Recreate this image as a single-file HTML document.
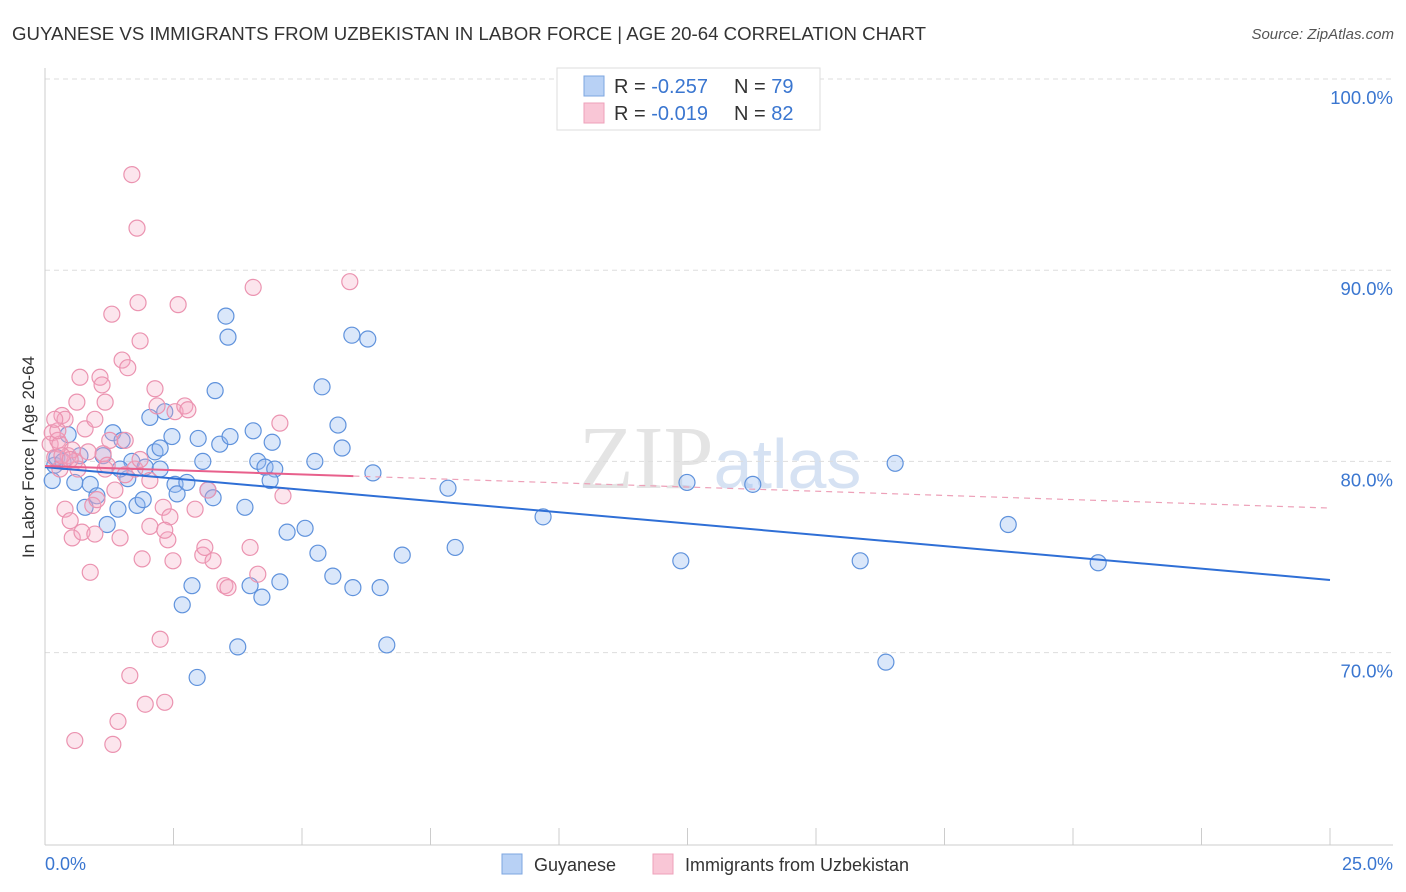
<!DOCTYPE html>
<html><head><meta charset="utf-8"><style>
body{margin:0;background:#fff;font-family:"Liberation Sans",sans-serif;}
svg{display:block}
</style></head><body>
<svg id="chart" width="1406" height="892" xmlns="http://www.w3.org/2000/svg">
<text x="12" y="40" font-size="18" fill="#333" textLength="914" lengthAdjust="spacingAndGlyphs">GUYANESE VS IMMIGRANTS FROM UZBEKISTAN IN LABOR FORCE | AGE 20-64 CORRELATION CHART</text>
<text x="1394" y="39" font-size="15" fill="#555" text-anchor="end" font-style="italic">Source: ZipAtlas.com</text>
<text x="720" y="488" font-size="90" fill="#e4e4e4" text-anchor="middle" font-family="Liberation Serif"><tspan>ZIP</tspan><tspan fill="#d6e2f3" font-family="Liberation Sans" font-size="70">atlas</tspan></text>
<g id="grid"></g>
<g id="axes"></g>
<g id="pts"></g>
<g id="trends"></g>
<text transform="translate(34,457) rotate(-90)" font-size="17" fill="#333" text-anchor="middle">In Labor Force | Age 20-64</text>
<g>
<rect x="557" y="68" width="263" height="62" fill="#fff" stroke="#ddd"/>
<rect x="584" y="76" width="20" height="20" fill="#b8d1f5" stroke="#7da6e0"/>
<rect x="584" y="103" width="20" height="20" fill="#f9c6d6" stroke="#eea0ba"/>
<text x="614" y="93" font-size="20" fill="#333">R = <tspan fill="#3a76d0">-0.257</tspan><tspan x="734">N = </tspan><tspan fill="#3a76d0">79</tspan></text>
<text x="614" y="120" font-size="20" fill="#333">R = <tspan fill="#3a76d0">-0.019</tspan><tspan x="734">N = </tspan><tspan fill="#3a76d0">82</tspan></text>
</g>
<g>
<rect x="502" y="854" width="20" height="20" fill="#b8d1f5" stroke="#7da6e0"/>
<text x="534" y="871" font-size="18" fill="#333">Guyanese</text>
<rect x="653" y="854" width="20" height="20" fill="#f9c6d6" stroke="#eea0ba"/>
<text x="685" y="871" font-size="18" fill="#333">Immigrants from Uzbekistan</text>
</g>
</svg>
<script>
const xTicks=[0,25];
const xTickLabels=["0.0%","25.0%"];
const yTicks=[100,90,80,70];
const yTickLabels=["100.0%","90.0%","80.0%","70.0%"];
const blueX=[0.14,0.19,0.23,0.35,0.45,0.58,0.68,0.78,0.88,1.01,1.13,1.21,1.32,1.42,1.50,1.61,1.69,1.79,1.91,1.95,2.04,2.14,2.24,2.33,2.47,2.53,2.57,2.67,2.76,2.86,2.96,2.98,3.07,3.17,3.27,3.31,3.40,3.52,3.56,3.75,3.89,3.99,4.05,4.14,4.22,4.28,4.42,4.47,4.57,4.71,5.06,5.31,5.39,5.60,5.70,5.78,5.97,5.99,6.28,6.38,6.52,6.65,6.95,7.84,7.98,9.69,12.37,12.49,13.77,15.86,16.36,16.54,18.74,20.49,5.25,3.60,4.38,2.24,1.46];
const blueY=[79.0,79.8,80.2,80.0,81.4,78.9,80.3,77.6,78.8,78.2,80.3,76.7,81.5,77.5,81.1,79.1,80.0,77.7,78.0,79.7,82.3,80.5,80.7,82.6,81.3,78.8,78.3,72.5,78.9,73.5,68.7,81.2,80.0,78.5,78.1,83.7,80.9,87.6,86.5,70.3,77.6,73.5,81.6,80.0,72.9,79.7,81.0,79.6,73.7,76.3,76.5,75.2,83.9,74.0,81.9,80.7,86.6,73.4,86.4,79.4,73.4,70.4,75.1,78.6,75.5,77.1,74.8,78.9,78.8,74.8,69.5,79.9,76.7,74.7,80.0,81.3,79.0,79.6,79.6];
const pinkX=[0.10,0.14,0.19,0.25,0.29,0.33,0.39,0.45,0.49,0.53,0.58,0.62,0.68,0.72,0.78,0.84,0.88,0.93,0.97,1.01,1.07,1.13,1.17,1.21,1.26,1.30,1.32,1.36,1.42,1.46,1.50,1.56,1.61,1.65,1.69,1.75,1.79,1.81,1.85,1.89,1.95,2.04,2.14,2.18,2.24,2.30,2.33,2.39,2.43,2.49,2.53,2.59,2.72,2.78,2.92,3.07,3.11,3.17,3.27,3.50,3.56,3.99,4.05,4.14,4.57,4.63,5.93,0.29,0.39,0.53,0.64,0.97,1.11,1.56,1.85,2.04,2.33,0.58,1.17,0.33,0.25,0.49,0.19];
const pinkY=[80.9,81.5,80.2,81.1,79.6,82.4,77.5,80.3,76.9,76.0,80.0,83.1,84.4,76.3,81.7,80.5,74.2,77.7,76.2,78.0,84.4,80.4,83.1,79.8,81.1,87.7,65.2,78.5,66.4,76.0,85.3,81.1,84.9,68.8,95.0,79.6,92.2,88.3,86.3,74.9,67.3,76.6,83.8,82.9,70.7,77.6,67.4,75.9,77.1,74.8,82.6,88.2,82.9,82.7,77.5,75.1,75.5,78.5,74.8,73.5,73.4,75.5,89.1,74.1,82.0,78.2,89.4,80.9,82.2,80.6,79.6,82.2,84.0,79.3,80.1,79.0,76.4,65.4,79.6,80.3,81.6,80.1,82.2];
const blueTrend=[79.7,73.8];
const pinkTrend=[79.76,77.56];
const pinkSolidEnd=6.0;

const NS="http://www.w3.org/2000/svg";
const sx=v=>45+v*51.4;
const sy=v=>79+(100-v)*19.12;
function mk(tag,attrs,parent){const e=document.createElementNS(NS,tag);for(const k in attrs)e.setAttribute(k,attrs[k]);document.getElementById(parent).appendChild(e);return e;}
yTicks.forEach((t,i)=>{
 const g=mk('line',{x1:45,x2:1393,y1:sy(t),y2:sy(t),stroke:'#ddd','stroke-dasharray':'5,4'},'grid');
 
 
 const l=mk('text',{x:1393,y:sy(t)+25,'font-size':18.5,fill:'#3a76d0','text-anchor':'end'},'axes');
 l.textContent=yTickLabels[i];
 
 
});
const ax=mk('line',{x1:45,x2:45,y1:68,y2:845,stroke:'#ccc'},'axes');


const bx=mk('line',{x1:45,x2:1393,y1:845,y2:845,stroke:'#ccc'},'axes');


for(let i=0;i<=10;i++){
 const t=mk('line',{x1:sx(i*2.5),x2:sx(i*2.5),y1:828,y2:845,stroke:'#ccc'},'axes');
 
 
}
xTicks.forEach((t,i)=>{
 const l=mk('text',{x:i==0?45:1393,y:870,'font-size':18,fill:'#3a76d0','text-anchor':i==0?'start':'end'},'axes');
 l.textContent=xTickLabels[i];
 
 
});
blueX.forEach((x,i)=>{
 const c=mk('circle',{cx:sx(x),cy:sy(blueY[i]),r:8,fill:'rgba(150,185,240,0.35)',stroke:'#5f92dc','stroke-width':1.2},'pts');
 
 
});
pinkX.forEach((x,i)=>{
 const c=mk('circle',{cx:sx(x),cy:sy(pinkY[i]),r:8,fill:'rgba(245,170,195,0.3)',stroke:'#eb93b0','stroke-width':1.2},'pts');
 
 
});
const bt=mk('line',{x1:sx(0),y1:sy(blueTrend[0]),x2:sx(25),y2:sy(blueTrend[1]),stroke:'#2f6fd6','stroke-width':2},'trends');


const pAt=x=>pinkTrend[0]+(pinkTrend[1]-pinkTrend[0])*x/25;
const pt=mk('line',{x1:sx(0),y1:sy(pinkTrend[0]),x2:sx(pinkSolidEnd),y2:sy(pAt(pinkSolidEnd)),stroke:'#e8608c','stroke-width':2},'trends');


const pd=mk('line',{x1:sx(pinkSolidEnd),y1:sy(pAt(pinkSolidEnd)),x2:sx(25),y2:sy(pinkTrend[1]),stroke:'#eda0b8','stroke-width':1.2,'stroke-dasharray':'6,5'},'trends');


</script>
</body></html>
